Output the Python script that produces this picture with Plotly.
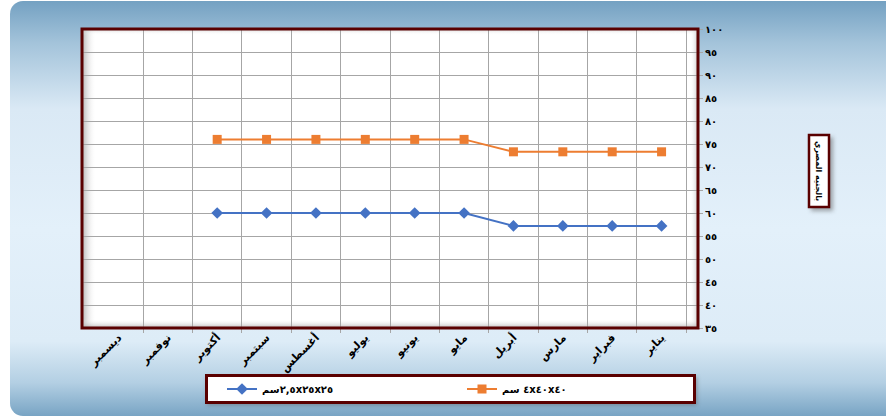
import base64
import plotly.graph_objects as go

# ---------------- data ----------------
months = ["يناير", "فبراير", "مارس", "أبريل", "مايو", "يونيو",
          "يوليو", "أغسطس", "سبتمبر", "أكتوبر", "نوفمبر", "ديسمبر"]
series_small_name = "سم\u200e٢,٥x٢٥x٢٥"
series_small = [57.2, 57.2, 57.2, 57.2, 60, 60, 60, 60, 60, 60, None, None]
series_large_name = "سم\u200e ٤x٤٠x٤٠"
series_large = [73.3, 73.3, 73.3, 73.3, 76, 76, 76, 76, 76, 76, None, None]
y_tick_vals = [35, 40, 45, 50, 55, 60, 65, 70, 75, 80, 85, 90, 95, 100]
y_tick_text = ["٣٥", "٤٠", "٤٥", "٥٠", "٥٥", "٦٠", "٦٥", "٧٠", "٧٥", "٨٠", "٨٥", "٩٠", "٩٥", "١٠٠"]
y_title = "بالجنيه المصري"

# ---------------- layout geometry ----------------
W, H = 886, 417
ML, MR, MT, MB = 82, 188, 29, 89
PW, PH = W - ML - MR, H - MT - MB

FONT = "DejaVu Sans, Noto Sans, sans-serif"
DARKRED = "#5a0000"

svg = f'''<svg xmlns="http://www.w3.org/2000/svg" width="{W}" height="{H}" viewBox="0 0 {W} {H}">
<defs>
<linearGradient id="bg" x1="0" y1="0" x2="0" y2="1">
<stop offset="0" stop-color="#74a1c2"/>
<stop offset="0.1" stop-color="#a3c3da"/>
<stop offset="0.26" stop-color="#dae9f5"/>
<stop offset="0.55" stop-color="#e3f0fa"/>
<stop offset="0.82" stop-color="#ddecf7"/>
<stop offset="0.92" stop-color="#b3cfe3"/>
<stop offset="1" stop-color="#78a4c4"/>
</linearGradient>
<linearGradient id="bl" x1="0" y1="0" x2="1" y2="0">
<stop offset="0" stop-color="#9a9a9a" stop-opacity="0.75"/>
<stop offset="1" stop-color="#ffffff" stop-opacity="0"/>
</linearGradient>
<linearGradient id="br" x1="1" y1="0" x2="0" y2="0">
<stop offset="0" stop-color="#a0a0a0" stop-opacity="0.6"/>
<stop offset="1" stop-color="#ffffff" stop-opacity="0"/>
</linearGradient>
<linearGradient id="bb" x1="0" y1="1" x2="0" y2="0">
<stop offset="0" stop-color="#9a9a9a" stop-opacity="0.7"/>
<stop offset="1" stop-color="#ffffff" stop-opacity="0"/>
</linearGradient>
<linearGradient id="bt" x1="0" y1="0" x2="0" y2="1">
<stop offset="0" stop-color="#b0b0b0" stop-opacity="0.5"/>
<stop offset="1" stop-color="#ffffff" stop-opacity="0"/>
</linearGradient>
<filter id="sh" x="-20%" y="-20%" width="140%" height="140%"><feGaussianBlur stdDeviation="2"/></filter>
</defs>
<rect x="0" y="0" width="{W}" height="{H}" fill="#ffffff"/>
<rect x="10" y="1" width="900" height="415" rx="13" ry="13" fill="url(#bg)"/>
<rect x="{ML}" y="{MT}" width="{PW}" height="{PH}" fill="#ffffff"/>
<rect x="{ML}" y="{MT}" width="14" height="{PH}" fill="url(#bl)"/>
<rect x="{ML + PW - 8}" y="{MT}" width="8" height="{PH}" fill="url(#br)"/>
<rect x="{ML}" y="{MT + PH - 9}" width="{PW}" height="9" fill="url(#bb)"/>
<rect x="{ML}" y="{MT}" width="{PW}" height="6" fill="url(#bt)"/>
<rect x="207" y="377" width="490" height="28" fill="#555" opacity="0.5" filter="url(#sh)"/>
<rect x="206.5" y="375.5" width="488" height="27" fill="#ffffff" stroke="{DARKRED}" stroke-width="3"/>
<rect x="811" y="137" width="22" height="74" fill="#555" opacity="0.5" filter="url(#sh)"/>
<rect x="809" y="135" width="20" height="72" fill="#ffffff" stroke="{DARKRED}" stroke-width="2.5"/>
</svg>'''
svg_uri = "data:image/svg+xml;base64," + base64.b64encode(svg.encode("utf-8")).decode("ascii")

fig = go.Figure()
fig.add_trace(go.Scatter(
    x=months, y=series_small, name=series_small_name, mode="lines+markers",
    line=dict(color="#4472C4", width=2),
    marker=dict(symbol="diamond", size=9, color="#4472C4"),
))
fig.add_trace(go.Scatter(
    x=months, y=series_large, name=series_large_name, mode="lines+markers",
    line=dict(color="#ED7D31", width=2),
    marker=dict(symbol="square", size=9, color="#ED7D31"),
))

fig.update_layout(
    width=W, height=H,
    margin=dict(l=ML, r=MR, t=MT, b=MB, pad=0),
    paper_bgcolor="rgba(0,0,0,0)",
    plot_bgcolor="rgba(0,0,0,0)",
    font=dict(family=FONT, color="#000000"),
    showlegend=True,
    legend=dict(
        orientation="h", x=(222 - ML) / PW, xanchor="left",
        y=(MT + PH - 389) / PH, yanchor="middle",
        bgcolor="rgba(0,0,0,0)", borderwidth=0,
        font=dict(size=10, family=FONT, weight="bold"),
        entrywidth=195, entrywidthmode="pixels",
        traceorder="normal",
    ),
    images=[dict(
        source=svg_uri, xref="paper", yref="paper",
        x=-ML / PW, y=1 + MT / PH, sizex=W / PW, sizey=H / PH,
        xanchor="left", yanchor="top", sizing="stretch", layer="below",
    )],
    shapes=[dict(
        type="rect", xref="paper", yref="paper", x0=0, x1=1, y0=0, y1=1,
        line=dict(color=DARKRED, width=3), layer="above",
    )],
    annotations=[dict(
        text=y_title, xref="paper", yref="paper",
        x=(819 - ML) / PW, y=(MT + PH - 171) / PH,
        xanchor="center", yanchor="middle",
        showarrow=False, textangle=90,
        font=dict(size=8, family=FONT, weight="bold", color="#000"),
    )],
)

fig.update_xaxes(
    type="category", categoryorder="array", categoryarray=months,
    autorange="reversed", tickson="boundaries",
    showgrid=True, gridcolor="#a6a6a6", gridwidth=1,
    ticks="outside", ticklen=4, tickcolor="#a6a6a6",
    tickangle=-45, tickfont=dict(size=11, family=FONT, weight="bold"),
    showline=False, zeroline=False,
)
fig.update_yaxes(
    range=[35, 100], side="right",
    tickmode="array", tickvals=y_tick_vals, ticktext=y_tick_text,
    showgrid=True, gridcolor="#a6a6a6", gridwidth=1,
    ticks="outside", ticklen=4, tickcolor="#a6a6a6",
    tickfont=dict(size=10, family=FONT, weight="bold"),
    showline=False, zeroline=False,
)

fig.write_html(
    "out.html",
    config={"displayModeBar": False},
    post_script="document.body.style.margin='0';document.body.style.overflow='hidden';",
)
